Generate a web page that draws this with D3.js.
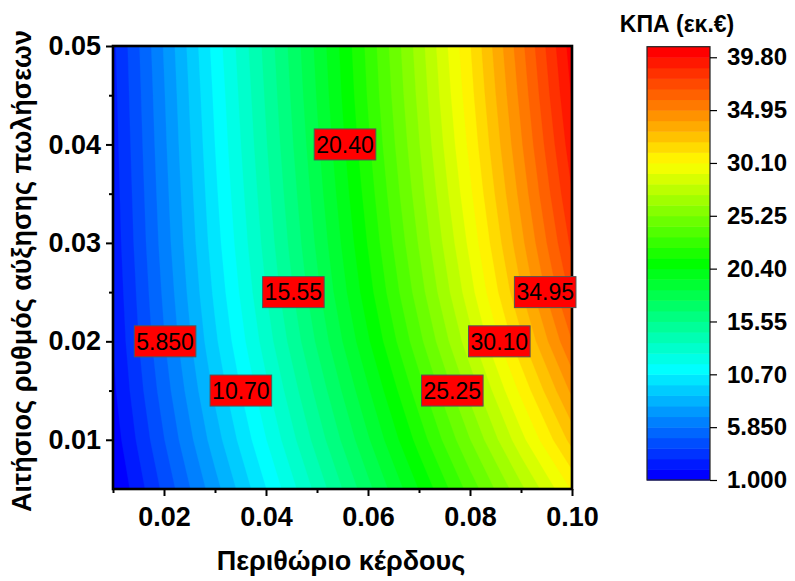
<!DOCTYPE html>
<html><head><meta charset="utf-8">
<script src="https://cdn.jsdelivr.net/npm/d3@7"></script>
<style>
body{margin:0;background:#fff}
svg{display:block}
text{font-family:Arial,"Liberation Sans",sans-serif}
</style>
</head><body>
<svg id="chart" width="795" height="581"></svg>
<script>
// Grid axes
const profitMargin = [0.01, 0.02, 0.03, 0.04, 0.05, 0.06, 0.07, 0.08, 0.09, 0.10];
const salesGrowth = [0.005, 0.010, 0.015, 0.020, 0.025, 0.030, 0.035, 0.040, 0.045, 0.050];
// Net present value (thousand €): one row per growth rate, columns follow profitMargin
const npv = [
  [0.90, 4.16, 7.41, 10.67, 13.92, 17.18, 20.43, 23.69, 26.94, 30.20],
  [1.40, 4.84, 8.29, 11.63, 14.97, 18.33, 21.75, 25.22, 28.79, 32.40],
  [1.75, 5.36, 8.96, 12.39, 15.82, 19.30, 22.86, 26.52, 30.32, 34.20],
  [2.00, 5.77, 9.53, 13.09, 16.65, 20.26, 23.97, 27.80, 31.80, 35.90],
  [2.15, 6.04, 9.94, 13.59, 17.24, 20.96, 24.78, 28.75, 32.92, 37.20],
  [2.30, 6.28, 10.26, 13.95, 17.65, 21.43, 25.33, 29.38, 33.68, 38.10],
  [2.40, 6.44, 10.49, 14.23, 17.98, 21.81, 25.78, 29.90, 34.29, 38.80],
  [2.50, 6.60, 10.70, 14.49, 18.27, 22.15, 26.16, 30.35, 34.81, 39.40],
  [2.60, 6.74, 10.89, 14.70, 18.51, 22.42, 26.46, 30.71, 35.23, 39.90],
  [2.70, 6.90, 11.10, 14.90, 18.70, 22.60, 26.70, 31.00, 35.60, 40.30]
];
// Contour levels
const levelMin = 1.0, levelStep = 0.97, levelCount = 41;
const xTickValues = [0.02, 0.04, 0.06, 0.08, 0.10];
const xMinorValues = [0.01, 0.03, 0.05, 0.07, 0.09];
const yTickValues = [0.01, 0.02, 0.03, 0.04, 0.05];
const yMinorValues = [0.015, 0.025, 0.035, 0.045];
const colorbarTicks = [1.000, 5.850, 10.70, 15.55, 20.40, 25.25, 30.10, 34.95, 39.80];
// Level labels and the growth row each one sits on
const labelValues = [5.850, 10.70, 15.55, 20.40, 25.25, 30.10, 34.95];
const labelGrowth = [0.020, 0.015, 0.025, 0.040, 0.015, 0.020, 0.025];

const FONT = 'Arial,"Liberation Sans",sans-serif';
const svg = d3.select("#chart");
const L = 113, R = 572, T = 46, B = 489;
const x = d3.scaleLinear([0.01, 0.10], [L, R]);
const y = d3.scaleLinear([0.005, 0.05], [B, T]);

const levels = d3.range(levelCount + 1).map(k => levelMin + levelStep * k);
const band = d3.scaleLinear()
  .domain([0, 10, 20, 29.5, 40])
  .range(["#0000ff", "#00ffff", "#00ff00", "#ffff00", "#ff0000"])
  .clamp(true);

// filled contours
const nx = profitMargin.length, ny = salesGrowth.length;
const dxStep = profitMargin[1] - profitMargin[0];
const dyStep = salesGrowth[1] - salesGrowth[0];
const contours = d3.contours().size([nx, ny]).thresholds(levels)(npv.flat());
const toScreen = d3.geoTransform({
  point(px, py) {
    this.stream.point(x(profitMargin[0] + (px - 0.5) * dxStep),
                      y(salesGrowth[0] + (py - 0.5) * dyStep));
  }
});
const path = d3.geoPath(toScreen);

svg.append("clipPath").attr("id", "plotClip")
  .append("rect").attr("x", L).attr("y", T).attr("width", R - L).attr("height", B - T);

const plot = svg.append("g").attr("clip-path", "url(#plotClip)");
plot.append("rect").attr("x", L).attr("y", T).attr("width", R - L).attr("height", B - T)
  .attr("fill", band(0));
plot.selectAll("path.band").data(contours).join("path")
  .attr("class", "band")
  .attr("d", path)
  .attr("fill", (d, i) => band(i))
  .attr("stroke", (d, i) => band(i))
  .attr("stroke-width", 0.3);

// frame
svg.append("rect").attr("x", L).attr("y", T).attr("width", R - L).attr("height", B - T)
  .attr("fill", "none").attr("stroke", "#000").attr("stroke-width", 2.6);

// axes
const fmt2 = d3.format(".2f");
svg.append("g").attr("transform", `translate(0,${B})`)
  .call(d3.axisBottom(x).tickValues(xTickValues).tickSize(7).tickPadding(11).tickFormat(fmt2));
svg.append("g").attr("transform", `translate(0,${B})`)
  .call(d3.axisBottom(x).tickValues(xMinorValues).tickSize(4).tickFormat(""));
svg.append("g").attr("transform", `translate(${L},0)`)
  .call(d3.axisLeft(y).tickValues(yTickValues).tickSize(7).tickPadding(5).tickFormat(fmt2));
svg.append("g").attr("transform", `translate(${L},0)`)
  .call(d3.axisLeft(y).tickValues(yMinorValues).tickSize(4).tickFormat(""));
svg.selectAll(".domain").remove();
svg.selectAll(".tick line").attr("stroke", "#000").attr("stroke-width", 2);
svg.selectAll(".tick text").attr("fill", "#000").attr("font-weight", "bold")
  .attr("font-size", 27).style("font-family", FONT);

// axis titles
svg.append("text").attr("x", 341).attr("y", 570).attr("text-anchor", "middle")
  .attr("font-weight", "bold").attr("font-size", 27).text("Περιθώριο κέρδους");
svg.append("text").attr("transform", `translate(31,271) rotate(-90)`)
  .attr("text-anchor", "middle").attr("font-weight", "bold").attr("font-size", 27)
  .text("Αιτήσιος ρυθμός αύξησης πωλήσεων");

// colorbar
const CL = 647, CR = 710, CT = 46.7, CB = 480;
const cb = d3.scaleLinear([levels[0], levels[levelCount]], [CB, CT]);
svg.append("g").selectAll("rect").data(d3.range(levelCount)).join("rect")
  .attr("x", CL).attr("width", CR - CL)
  .attr("y", k => cb(levels[k + 1]))
  .attr("height", k => cb(levels[k]) - cb(levels[k + 1]) + 0.5)
  .attr("fill", k => band(k));
svg.append("rect").attr("x", CL).attr("y", CT).attr("width", CR - CL).attr("height", CB - CT)
  .attr("fill", "none").attr("stroke", "#222").attr("stroke-width", 1.2);
const fmt4 = d3.format(".4r");
const cbAxis = svg.append("g").attr("transform", `translate(${CR},0)`)
  .call(d3.axisRight(cb).tickValues(colorbarTicks).tickSize(7).tickPadding(10).tickFormat(fmt4));
cbAxis.select(".domain").remove();
cbAxis.selectAll(".tick line").attr("stroke", "#000").attr("stroke-width", 1.2);
cbAxis.selectAll(".tick text").attr("fill", "#000").attr("font-weight", "bold")
  .attr("font-size", 24).style("font-family", FONT);
svg.append("text").attr("x", 677).attr("y", 32).attr("text-anchor", "middle")
  .attr("font-weight", "bold").attr("font-size", 23).text("ΚΠΑ (εκ.€)");

// contour level labels, placed where each level crosses its growth row
function crossing(value, g) {
  const row = npv[salesGrowth.findIndex(s => Math.abs(s - g) < 1e-9)];
  for (let i = 0; i < row.length - 1; i++) {
    if (row[i] <= value && value <= row[i + 1]) {
      return profitMargin[i] + (value - row[i]) / (row[i + 1] - row[i]) * dxStep;
    }
  }
  return profitMargin[profitMargin.length - 1];
}
const lab = svg.append("g").selectAll("g").data(labelValues).join("g")
  .attr("transform", (v, i) => `translate(${x(crossing(v, labelGrowth[i]))},${y(labelGrowth[i])})`);
lab.append("text").attr("text-anchor", "middle").attr("dy", "0.36em")
  .attr("font-size", 23).attr("fill", "#000").text(v => fmt4(v));
lab.insert("rect", "text").each(function () {
  const w = this.parentNode.querySelector("text").getComputedTextLength();
  d3.select(this).attr("x", -w / 2 - 2).attr("y", -15.5).attr("width", w + 4).attr("height", 31);
}).attr("fill", "#ff0000").attr("stroke", "#555").attr("stroke-width", 1);
</script>
</body></html>
